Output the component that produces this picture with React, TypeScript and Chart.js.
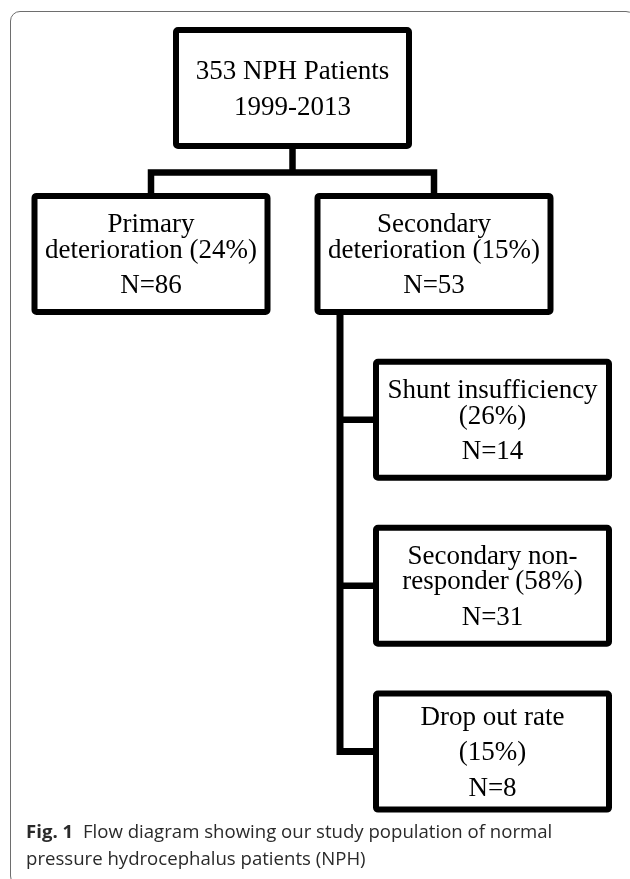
import React, { useEffect, useRef } from "react";
import { Chart, registerables } from "chart.js";

Chart.register(...registerables);

// ---- data ----
const nodeCounts: number[] = [353, 86, 53, 14, 31, 8];
const nodePercents: (number | null)[] = [null, 24, 15, 26, 58, 15];
const nodeParents: number[] = [-1, 0, 0, 2, 2, 2];
const studyPeriod = "1999-2013";
const nodeTemplates: string[][] = [
  ["{n} NPH Patients", studyPeriod],
  ["Primary\ndeterioration ({p}%)", "N={n}"],
  ["Secondary\ndeterioration ({p}%)", "N={n}"],
  ["Shunt insufficiency\n({p}%)", "N={n}"],
  ["Secondary non-\nresponder ({p}%)", "N={n}"],
  ["Drop out rate", "({p}%)", "N={n}"],
];
const captionLabel = "Fig. 1";
const captionLines: string[] = [
  "Flow diagram showing our study population of normal",
  "pressure hydrocephalus patients (NPH)",
];

// ---- layout (styles / sizes) ----
const W = 630;
const H = 879;
const COL_PX = 283;
const COL0_PX = 151;
const ROW_PX = 165.9;
const ROW0_PX = 88;
const INDENT_COL = 58.5 / COL_PX;
const BOX_W = 239;
const BOX_H = 122;
const BOX_LW = 6;
const LINK_LW = 6.5;
const FONT_PX = 27;
const CAP_H = 17.5;
const LINE_GAP = 25.5;
const PARA_GAP = 35.5;

function nodeText(i: number): string[][] {
  return nodeTemplates[i].map((para) =>
    para
      .replace("{n}", String(nodeCounts[i]))
      .replace("{p}", nodePercents[i] == null ? "" : String(nodePercents[i]))
      .split("\n")
  );
}

function computeLayout() {
  const n = nodeParents.length;
  const children: number[][] = Array.from({ length: n }, () => []);
  nodeParents.forEach((p, i) => {
    if (p >= 0) children[p].push(i);
  });
  const col = new Array(n).fill(0);
  const row = new Array(n).fill(0);
  const root = nodeParents.indexOf(-1);
  children[root].forEach((c, k) => {
    col[c] = k;
    row[c] = 1;
    children[c].forEach((g, j) => {
      col[g] = k + INDENT_COL;
      row[g] = 2 + j;
    });
  });
  const kids = children[root];
  col[root] = kids.reduce((s, c) => s + col[c], 0) / kids.length;
  row[root] = 0;
  return { col, row, children, root };
}

const flowPlugin = {
  id: "flowDiagram",
  afterDatasetsDraw(chart: any) {
    const ctx: CanvasRenderingContext2D = chart.ctx;
    const meta = chart.getDatasetMeta(0);
    const { children, root } = computeLayout();
    const pos = meta.data.map((el: any) => ({ x: el.x, y: el.y }));
    ctx.save();
    ctx.strokeStyle = "#000";
    ctx.lineCap = "butt";
    ctx.lineJoin = "miter";

    // root -> level 1 connectors
    ctx.lineWidth = LINK_LW;
    const r = pos[root];
    const kids = children[root];
    const rootBottom = r.y + BOX_H / 2;
    const kidTop = pos[kids[0]].y - BOX_H / 2;
    const barY = (rootBottom + kidTop) / 2 + 1.5;
    ctx.beginPath();
    ctx.moveTo(r.x, rootBottom - 2);
    ctx.lineTo(r.x, barY);
    ctx.stroke();
    ctx.beginPath();
    ctx.moveTo(pos[kids[0]].x, kidTop + 2);
    ctx.lineTo(pos[kids[0]].x, barY);
    ctx.lineTo(pos[kids[kids.length - 1]].x, barY);
    ctx.lineTo(pos[kids[kids.length - 1]].x, kidTop + 2);
    ctx.stroke();

    // level 1 -> stacked children
    kids.forEach((k) => {
      const gs = children[k];
      if (!gs.length) return;
      const p = pos[k];
      const trunkX = p.x - BOX_W / 2 + 25.5;
      const pBottom = p.y + BOX_H / 2;
      const last = gs[gs.length - 1];
      ctx.lineWidth = 7;
      ctx.beginPath();
      ctx.moveTo(trunkX, pBottom - 2);
      ctx.lineTo(trunkX, pos[last].y);
      ctx.lineTo(pos[last].x - BOX_W / 2 + 2, pos[last].y);
      ctx.stroke();
      ctx.lineWidth = LINK_LW;
      gs.slice(0, -1).forEach((g) => {
        ctx.beginPath();
        ctx.moveTo(trunkX, pos[g].y);
        ctx.lineTo(pos[g].x - BOX_W / 2 + 2, pos[g].y);
        ctx.stroke();
      });
    });

    // boxes + text
    pos.forEach((p: any, i: number) => {
      ctx.lineWidth = BOX_LW;
      ctx.fillStyle = "#fff";
      ctx.beginPath();
      const x0 = p.x - BOX_W / 2 + BOX_LW / 2;
      const y0 = p.y - BOX_H / 2 + BOX_LW / 2;
      (ctx as any).roundRect(x0, y0, BOX_W - BOX_LW, BOX_H - BOX_LW, 2);
      ctx.fill();
      ctx.stroke();

      const paras = nodeText(i);
      const lines: { t: string; dy: number }[] = [];
      let dy = 0;
      paras.forEach((para, pi) => {
        para.forEach((t, li) => {
          if (pi > 0 || li > 0) dy += li === 0 ? PARA_GAP : LINE_GAP;
          lines.push({ t, dy });
        });
      });
      const blockH = CAP_H + dy;
      const firstBase = p.y - blockH / 2 + CAP_H;
      ctx.fillStyle = "#000";
      ctx.font = `${FONT_PX}px "Liberation Serif", serif`;
      ctx.textAlign = "center";
      ctx.textBaseline = "alphabetic";
      lines.forEach((l) => ctx.fillText(l.t, p.x, firstBase + l.dy));
    });
    ctx.restore();
  },
};

export default function App() {
  const ref = useRef<HTMLCanvasElement | null>(null);
  useEffect(() => {
    document.body.style.margin = "0";
    const { col, row } = computeLayout();
    const data = col.map((c, i) => ({ x: c, y: row[i] }));
    const chart = new Chart(ref.current as HTMLCanvasElement, {
      type: "scatter",
      data: {
        datasets: [
          {
            data,
            pointRadius: 0,
            pointHoverRadius: 0,
            showLine: false,
          },
        ],
      },
      options: {
        animation: false,
        responsive: false,
        devicePixelRatio: 1,
        events: [],
        layout: { padding: 0 },
        plugins: {
          legend: { display: false },
          tooltip: { enabled: false },
          title: { display: false },
        },
        scales: {
          x: {
            type: "linear",
            display: false,
            min: -COL0_PX / COL_PX,
            max: (W - COL0_PX) / COL_PX,
          },
          y: {
            type: "linear",
            display: false,
            reverse: true,
            min: -ROW0_PX / ROW_PX,
            max: (H - ROW0_PX) / ROW_PX,
          },
        },
      },
      plugins: [flowPlugin],
    });
    return () => chart.destroy();
  }, []);

  return (
    <div
      style={{
        position: "absolute",
        left: 0,
        top: 0,
        width: W,
        height: H,
        overflow: "hidden",
        background: "#fff",
      }}
    >
      <div
        style={{
          position: "absolute",
          left: 10,
          top: 11,
          width: 626,
          height: 875,
          border: "1px solid #6e6e6e",
          borderRadius: 10,
          boxSizing: "border-box",
        }}
      />
      <canvas
        ref={ref}
        width={W}
        height={H}
        style={{ position: "absolute", left: 0, top: 0, width: W, height: H }}
      />
      <div
        style={{
          position: "absolute",
          left: 26,
          top: 817,
          fontFamily: '"Open Sans", sans-serif',
          fontSize: 18.6,
          lineHeight: "27px",
          color: "#2a2a2a",
          whiteSpace: "nowrap",
        }}
      >
        <span style={{ fontWeight: 700, marginRight: 5 }}>{captionLabel}</span>{" "}
        {captionLines[0]}
        <br />
        {captionLines[1]}
      </div>
    </div>
  );
}
